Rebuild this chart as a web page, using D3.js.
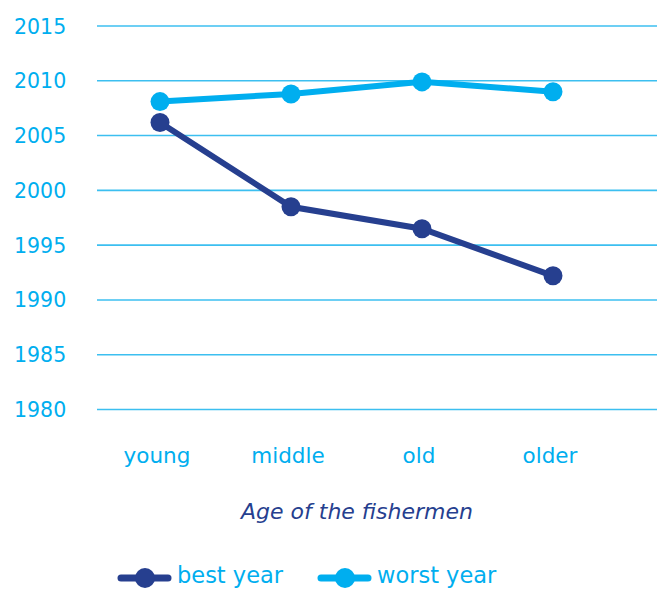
<!DOCTYPE html>
<html><head><meta charset="utf-8">
<script src="https://cdn.jsdelivr.net/npm/d3@7"></script>
<style>body{margin:0;background:#fff}svg{display:block}text{font-family:"DejaVu Sans",sans-serif}</style>
</head><body><svg id="c" width="657" height="589"></svg>
<script>
const categories = ["young","middle","old","older"];
const bestYear = [2006.2, 1998.5, 1996.5, 1992.2];
const worstYear = [2008.1, 2008.8, 2009.9, 2009.0];
const yTicks = [1980,1985,1990,1995,2000,2005,2010,2015];
const seriesNames = ["best year","worst year"];
const dark = "#263f8f", light = "#00aeef";

const svg = d3.select("#c");
const y = d3.scaleLinear().domain([1980,2015]).range([409.5,26]);
const x = d3.scalePoint().domain(categories).range([160,553]);

svg.append("g").selectAll("line").data(yTicks).join("line")
  .attr("x1",97).attr("x2",657).attr("y1",d=>y(d)).attr("y2",d=>y(d))
  .attr("stroke","#3cbff0").attr("stroke-width",1.6);
svg.append("g").selectAll("text").data(yTicks).join("text")
  .attr("x",14).attr("y",d=>y(d)+7.5).attr("font-size",20.5).attr("fill",light)
  .text(d=>d);

svg.append("g").selectAll("text").data(categories).join("text")
  .attr("x",d=>x(d)-3).attr("y",463).attr("text-anchor","middle")
  .attr("font-size",21.5).attr("fill",light).text(d=>d);

svg.append("text").attr("x",357).attr("y",519).attr("text-anchor","middle")
  .attr("font-size",22).attr("font-style","italic").attr("fill",dark)
  .text("Age of the fishermen");

const line = d3.line().x((d,i)=>x(categories[i])).y(d=>y(d));
[[worstYear,light],[bestYear,dark]].forEach(([data,col])=>{
  svg.append("path").attr("d",line(data)).attr("fill","none")
    .attr("stroke",col).attr("stroke-width",6);
  svg.append("g").selectAll("circle").data(data).join("circle")
    .attr("cx",(d,i)=>x(categories[i])).attr("cy",d=>y(d)).attr("r",9.5).attr("fill",col);
});

const lg = svg.append("g");
[[seriesNames[0],dark,118],[seriesNames[1],light,318]].forEach(([name,col,x0])=>{
  lg.append("line").attr("x1",x0+3).attr("x2",x0+50).attr("y1",578).attr("y2",578)
    .attr("stroke",col).attr("stroke-width",7).attr("stroke-linecap","round");
  lg.append("circle").attr("cx",x0+27).attr("cy",578).attr("r",10).attr("fill",col);
  lg.append("text").attr("x",x0+59).attr("y",583).attr("font-size",22.5).attr("fill",light).text(name);
});
</script></body></html>
